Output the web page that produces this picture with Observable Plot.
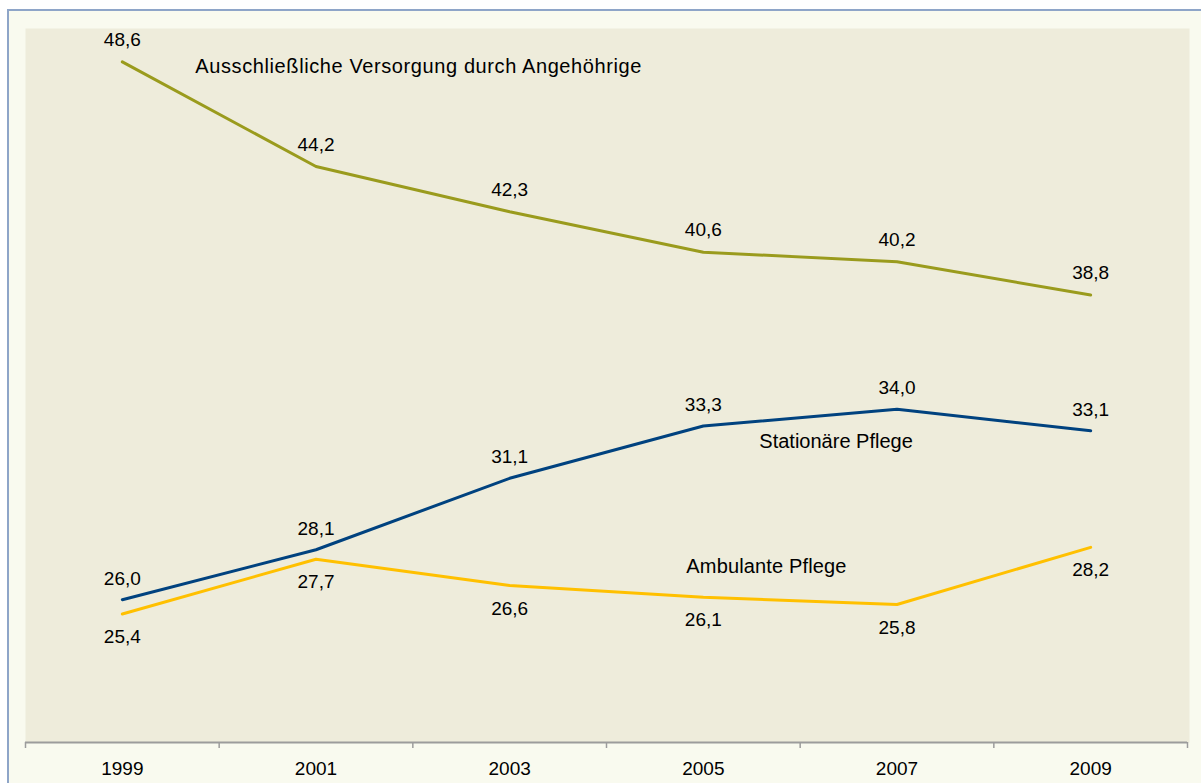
<!DOCTYPE html>
<html>
<head>
<meta charset="utf-8">
<script src="https://cdn.jsdelivr.net/npm/d3@7"></script>
<script src="https://cdn.jsdelivr.net/npm/@observablehq/plot@0.6"></script>
<style>
  html, body { margin: 0; padding: 0; background: #ffffff; }
  #wrap { position: relative; width: 1201px; height: 783px; overflow: hidden; }
  #outer { position: absolute; left: 7px; top: 9px; width: 1300px; height: 900px;
           background: #f9faef; border-left: 2px solid #8ea5c8; border-top: 2px solid #8ea5c8; }
  #chart { position: absolute; left: 0; top: 0; }
  #chart svg { background: transparent !important; }
</style>
</head>
<body>
<div id="wrap">
  <div id="outer"></div>
  <div id="chart"></div>
</div>
<script>
// ---- data ----
const years = [1999, 2001, 2003, 2005, 2007, 2009];
const angehoerige = [48.6, 44.2, 42.3, 40.6, 40.2, 38.8];
const stationaer = [26.0, 28.1, 31.1, 33.3, 34.0, 33.1];
const ambulant = [25.4, 27.7, 26.6, 26.1, 25.8, 28.2];
const seriesNames = ["Ausschließliche Versorgung durch Angehöhrige", "Stationäre Pflege", "Ambulante Pflege"];
const seriesColors = ["#9a9b1d", "#00427f", "#ffc000"];
const categoryBounds = [1998, 2000, 2002, 2004, 2006, 2008, 2010];
const labelSpacing = ["0.6px", "0px", "0.15px"];

const seriesValues = [angehoerige, stationaer, ambulant];
const rows = [];
seriesNames.forEach((s, i) => years.forEach((y, j) => rows.push({series: s, year: y, value: seriesValues[i][j]})));
const byS = i => rows.filter(r => r.series === seriesNames[i]);
const fmt = v => v.toFixed(1).replace(".", ",");

const font = "'Liberation Sans', Arial, sans-serif";
const fs = 19;
const fsLabel = 20;

const chart = Plot.plot({
  width: 1201,
  height: 783,
  marginLeft: 25,
  marginRight: 12,
  marginTop: 28,
  marginBottom: 41,
  style: {fontFamily: font, background: "transparent"},
  x: {type: "linear", domain: [1998, 2010], range: [25, 1187], axis: null},
  y: {type: "linear", domain: [20, 50], axis: null},
  color: {domain: seriesNames, range: seriesColors},
  marks: [
    Plot.frame({fill: "#eeecdb", stroke: null}),
    Plot.axisX({ticks: categoryBounds, tickSize: 6, tickFormat: () => "", label: null, stroke: "#9c9c9c", strokeWidth: 1.5}),
    Plot.ruleY([20], {x1: 1998, x2: 2010, stroke: "#9c9c9c", strokeWidth: 2}),
    Plot.text(years, {x: d => d, frameAnchor: "bottom", lineAnchor: "middle", dy: 26, text: d => String(d), fontSize: fs, fill: "#000"}),
    Plot.line(rows, {x: "year", y: "value", z: "series", stroke: "series", strokeWidth: 3, strokeLinejoin: "round"}),
    // value labels
    Plot.text(byS(0), {x: "year", y: "value", text: d => fmt(d.value), dy: -22, fontSize: fs, fill: "#000"}),
    Plot.text(byS(1), {x: "year", y: "value", text: d => fmt(d.value), dy: -21, fontSize: fs, fill: "#000"}),
    Plot.text(byS(2), {x: "year", y: "value", text: d => fmt(d.value), dy: 23, fontSize: fs, fill: "#000"}),
    // series labels, anchored to a point of each series
    Plot.text(byS(0).filter(d => d.year === 1999), {x: "year", y: "value", text: "series", textAnchor: "start", dx: 73, dy: 5, fontSize: fsLabel, fill: "#000"}),
    Plot.text(byS(1).filter(d => d.year === 2005), {x: "year", y: "value", text: "series", textAnchor: "start", dx: 56, dy: 16, fontSize: fsLabel, fill: "#000"}),
    Plot.text(byS(2).filter(d => d.year === 2005), {x: "year", y: "value", text: "series", textAnchor: "start", dx: -17, dy: -31, fontSize: fsLabel, fill: "#000"})
  ]
});
d3.select(chart).selectAll("text").each(function() {
  const i = seriesNames.indexOf(this.textContent.trim());
  if (i >= 0) this.style.letterSpacing = labelSpacing[i];
});
document.getElementById("chart").appendChild(chart);
</script>
</body>
</html>
